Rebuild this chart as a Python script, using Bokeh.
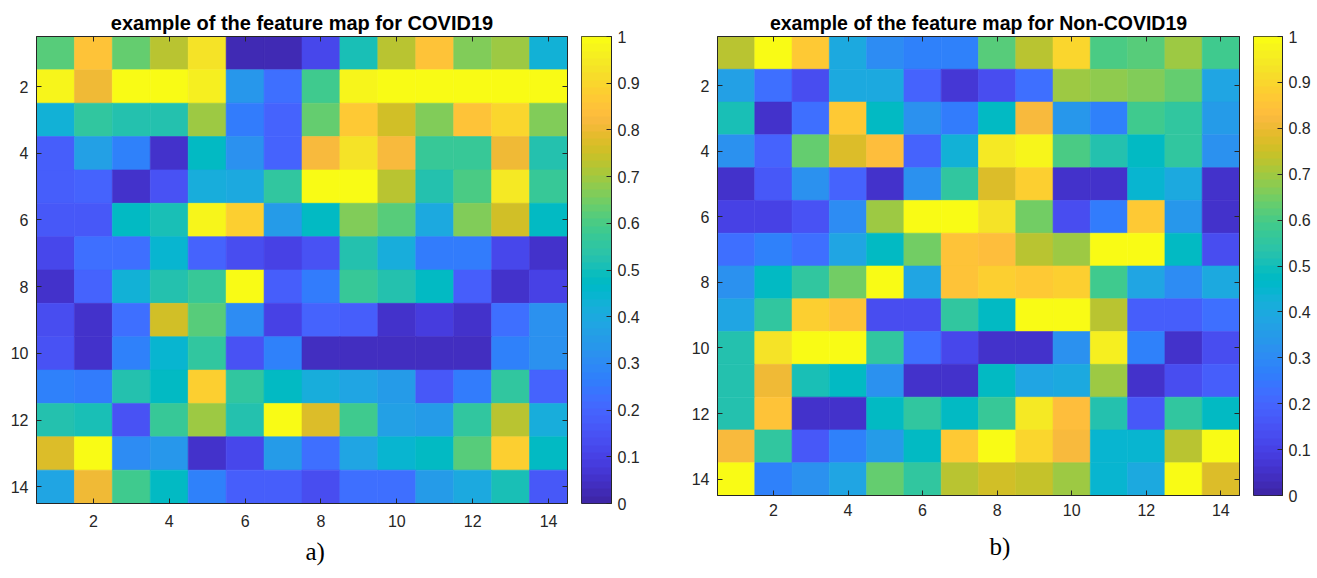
import numpy as np
from bokeh.plotting import figure
from bokeh.models import (LinearAxis, FixedTicker, LinearColorMapper, Title,
                          Range1d, ColumnDataSource)
from bokeh.transform import linear_cmap
from bokeh.layouts import row
from bokeh.embed import file_html
from bokeh.resources import INLINE

# ---------------- data ----------------
rows = list(range(1, 15))
cols = list(range(1, 15))
axis_ticks = [2, 4, 6, 8, 10, 12, 14]
cbar_ticks = [0.0, 0.1, 0.2, 0.3, 0.4, 0.5, 0.6, 0.7, 0.8, 0.9, 1.0]
title_a = "example of the feature map for COVID19"
title_b = "example of the feature map for Non-COVID19"
tag_a = "a)"
tag_b = "b)"

covid_map = [
    [0.62, 0.85, 0.63, 0.73, 0.93, 0.03, 0.03, 0.12, 0.50, 0.72, 0.85, 0.66, 0.70, 0.43],
    [0.98, 0.80, 1.00, 1.00, 0.96, 0.33, 0.22, 0.58, 0.97, 1.00, 1.00, 1.00, 1.00, 1.00],
    [0.43, 0.56, 0.53, 0.53, 0.70, 0.25, 0.20, 0.63, 0.87, 0.75, 0.66, 0.85, 0.90, 0.67],
    [0.18, 0.37, 0.27, 0.05, 0.48, 0.32, 0.20, 0.82, 0.93, 0.82, 0.57, 0.57, 0.80, 0.53],
    [0.18, 0.20, 0.05, 0.15, 0.42, 0.40, 0.56, 1.00, 1.00, 0.73, 0.53, 0.60, 0.95, 0.57],
    [0.17, 0.17, 0.48, 0.50, 0.98, 0.88, 0.35, 0.48, 0.66, 0.62, 0.40, 0.66, 0.75, 0.48],
    [0.12, 0.22, 0.22, 0.45, 0.20, 0.14, 0.10, 0.15, 0.52, 0.42, 0.25, 0.25, 0.12, 0.06],
    [0.05, 0.20, 0.43, 0.52, 0.57, 1.00, 0.18, 0.25, 0.57, 0.52, 0.48, 0.18, 0.05, 0.10],
    [0.14, 0.05, 0.22, 0.75, 0.62, 0.30, 0.10, 0.20, 0.18, 0.06, 0.08, 0.05, 0.22, 0.32],
    [0.15, 0.05, 0.28, 0.45, 0.55, 0.15, 0.28, 0.04, 0.04, 0.04, 0.04, 0.04, 0.27, 0.32],
    [0.27, 0.25, 0.53, 0.48, 0.88, 0.55, 0.48, 0.42, 0.38, 0.35, 0.17, 0.25, 0.55, 0.20],
    [0.53, 0.50, 0.15, 0.57, 0.70, 0.53, 1.00, 0.78, 0.58, 0.37, 0.35, 0.55, 0.72, 0.42],
    [0.77, 1.00, 0.30, 0.33, 0.05, 0.12, 0.35, 0.22, 0.38, 0.45, 0.48, 0.62, 0.88, 0.47],
    [0.38, 0.80, 0.58, 0.48, 0.27, 0.18, 0.18, 0.14, 0.23, 0.23, 0.35, 0.40, 0.50, 0.17],
]

noncovid_map = [
    [0.72, 1.00, 0.87, 0.40, 0.30, 0.27, 0.27, 0.62, 0.73, 0.90, 0.60, 0.62, 0.70, 0.58],
    [0.37, 0.22, 0.14, 0.40, 0.40, 0.20, 0.07, 0.14, 0.22, 0.70, 0.68, 0.67, 0.64, 0.38],
    [0.50, 0.05, 0.23, 0.87, 0.48, 0.32, 0.25, 0.47, 0.82, 0.33, 0.27, 0.58, 0.55, 0.35],
    [0.32, 0.20, 0.63, 0.77, 0.83, 0.20, 0.43, 0.94, 0.98, 0.60, 0.53, 0.48, 0.56, 0.32],
    [0.05, 0.17, 0.32, 0.20, 0.05, 0.32, 0.55, 0.77, 0.88, 0.05, 0.05, 0.45, 0.40, 0.05],
    [0.10, 0.10, 0.15, 0.30, 0.70, 1.00, 1.00, 0.93, 0.65, 0.13, 0.25, 0.87, 0.33, 0.05],
    [0.22, 0.27, 0.22, 0.38, 0.47, 0.65, 0.85, 0.84, 0.72, 0.70, 1.00, 1.00, 0.47, 0.14],
    [0.32, 0.47, 0.55, 0.65, 1.00, 0.38, 0.85, 0.88, 0.86, 0.88, 0.58, 0.38, 0.30, 0.40],
    [0.38, 0.55, 0.88, 0.85, 0.13, 0.13, 0.55, 0.47, 1.00, 1.00, 0.72, 0.18, 0.18, 0.22],
    [0.53, 0.93, 1.00, 1.00, 0.55, 0.23, 0.12, 0.05, 0.05, 0.32, 0.96, 0.27, 0.05, 0.14],
    [0.53, 0.80, 0.50, 0.48, 0.32, 0.05, 0.05, 0.47, 0.38, 0.40, 0.70, 0.05, 0.13, 0.18],
    [0.53, 0.85, 0.05, 0.05, 0.48, 0.56, 0.48, 0.57, 0.95, 0.83, 0.52, 0.17, 0.55, 0.48],
    [0.82, 0.55, 0.17, 0.27, 0.35, 0.48, 0.87, 1.00, 0.90, 0.82, 0.45, 0.45, 0.73, 1.00],
    [1.00, 0.27, 0.32, 0.38, 0.63, 0.55, 0.72, 0.76, 0.74, 0.70, 0.45, 0.40, 1.00, 0.78],
]

# ---------------- style ----------------
PARULA_RGB = [
    (0.2422, 0.1504, 0.6603), (0.2504, 0.1650, 0.7076), (0.2578, 0.1818, 0.7511), (0.2647, 0.1978, 0.7952),
    (0.2706, 0.2147, 0.8364), (0.2751, 0.2342, 0.8710), (0.2783, 0.2559, 0.8991), (0.2803, 0.2782, 0.9221),
    (0.2813, 0.3006, 0.9414), (0.2810, 0.3228, 0.9579), (0.2795, 0.3447, 0.9717), (0.2760, 0.3667, 0.9829),
    (0.2699, 0.3892, 0.9906), (0.2602, 0.4123, 0.9952), (0.2440, 0.4358, 0.9988), (0.2206, 0.4603, 0.9973),
    (0.1963, 0.4847, 0.9892), (0.1834, 0.5074, 0.9798), (0.1786, 0.5289, 0.9682), (0.1764, 0.5499, 0.9520),
    (0.1687, 0.5703, 0.9359), (0.1540, 0.5902, 0.9218), (0.1460, 0.6091, 0.9079), (0.1380, 0.6276, 0.8973),
    (0.1248, 0.6459, 0.8883), (0.1113, 0.6635, 0.8763), (0.0952, 0.6798, 0.8598), (0.0689, 0.6948, 0.8394),
    (0.0297, 0.7082, 0.8163), (0.0036, 0.7203, 0.7917), (0.0067, 0.7312, 0.7660), (0.0433, 0.7411, 0.7394),
    (0.0964, 0.7500, 0.7120), (0.1408, 0.7584, 0.6842), (0.1717, 0.7670, 0.6554), (0.1938, 0.7758, 0.6251),
    (0.2161, 0.7843, 0.5923), (0.2470, 0.7918, 0.5567), (0.2906, 0.7973, 0.5188), (0.3406, 0.8008, 0.4789),
    (0.3909, 0.8029, 0.4354), (0.4456, 0.8024, 0.3909), (0.5044, 0.7993, 0.3480), (0.5616, 0.7942, 0.3045),
    (0.6174, 0.7876, 0.2612), (0.6720, 0.7793, 0.2227), (0.7242, 0.7698, 0.1910), (0.7738, 0.7598, 0.1646),
    (0.8203, 0.7498, 0.1535), (0.8634, 0.7406, 0.1596), (0.9035, 0.7330, 0.1774), (0.9393, 0.7288, 0.2100),
    (0.9728, 0.7298, 0.2394), (0.9956, 0.7434, 0.2371), (0.9970, 0.7659, 0.2199), (0.9952, 0.7893, 0.2028),
    (0.9892, 0.8136, 0.1885), (0.9786, 0.8386, 0.1766), (0.9676, 0.8639, 0.1643), (0.9610, 0.8890, 0.1537),
    (0.9597, 0.9135, 0.1423), (0.9628, 0.9373, 0.1265), (0.9691, 0.9606, 0.1064), (0.9769, 0.9839, 0.0805),
]
PARULA = ["#%02x%02x%02x" % tuple(int(round(c * 255)) for c in rgb) for rgb in PARULA_RGB]

FONT = "Liberation Sans"
TXT = "#262626"
TICK_FS = "16px"


def style_axis(ax, labels=True):
    ax.ticker = FixedTicker(ticks=axis_ticks)
    ax.major_tick_in = 5
    ax.major_tick_out = 0
    ax.minor_tick_line_color = None
    ax.axis_line_color = TXT
    ax.major_tick_line_color = TXT
    ax.major_label_text_font = FONT
    if labels:
        ax.major_label_text_font_size = TICK_FS
        ax.major_label_text_color = TXT
    else:
        ax.major_label_text_font_size = "1px"
        ax.major_label_text_color = None
        ax.major_label_standoff = 0


def heatmap(title, mat, height, width, bl, br, bb, title_fs, title_stand, xstand,
            tag, tag_off, tag_stand):
    xs, ys, vs = [], [], []
    for i, r in enumerate(rows):
        for j, c in enumerate(cols):
            xs.append(c)
            ys.append(r)
            vs.append(mat[i][j])
    src = ColumnDataSource(dict(x=xs, y=ys, v=vs))
    p = figure(width=width, height=height, x_range=Range1d(0.5, 14.5), y_range=Range1d(14.5, 0.5),
               output_backend="svg", toolbar_location=None, title=title,
               min_border_left=bl, min_border_right=br, min_border_top=36, min_border_bottom=bb)
    cmap = linear_cmap("v", PARULA, 0, 1)
    p.rect(x="x", y="y", width=1, height=1, source=src, fill_color=cmap,
           line_color=cmap, line_width=0.6)
    p.grid.visible = False
    p.outline_line_color = TXT
    p.background_fill_color = "white"
    p.border_fill_color = "white"
    p.title.align = "center"
    p.title.text_font = FONT
    p.title.text_font_size = title_fs
    p.title.text_font_style = "bold"
    p.title.text_color = "black"
    p.title.standoff = title_stand
    style_axis(p.xaxis[0])
    style_axis(p.yaxis[0])
    p.xaxis.major_label_standoff = xstand
    p.yaxis.major_label_standoff = 8
    top = LinearAxis()
    style_axis(top, labels=False)
    p.add_layout(top, "above")
    right = LinearAxis()
    style_axis(right, labels=False)
    p.add_layout(right, "right")
    p.add_layout(Title(text=tag, align="left", offset=tag_off, text_font="Liberation Serif",
                       text_font_size="25px", text_font_style="normal", text_color="black",
                       standoff=tag_stand), "below")
    return p


def colorbar(height, width, bl, br, bb):
    cb = figure(width=width, height=height, x_range=Range1d(0, 1), y_range=Range1d(0, 1),
                output_backend="svg", toolbar_location=None, x_axis_location=None,
                y_axis_location="right",
                min_border_left=bl, min_border_right=br, min_border_top=36, min_border_bottom=bb)
    mapper = LinearColorMapper(palette=PARULA, low=0, high=1)
    cb.image(image=[np.linspace(0, 1, 256).reshape(256, 1)], x=0, y=0, dw=1, dh=1,
             color_mapper=mapper)
    cb.grid.visible = False
    cb.outline_line_color = TXT
    cb.border_fill_color = "white"
    ax = cb.yaxis[0]
    ax.ticker = FixedTicker(ticks=cbar_ticks)
    ax.major_label_overrides = {0: "0", 1: "1"}
    ax.major_tick_in = 5
    ax.major_tick_out = 0
    ax.minor_tick_line_color = None
    ax.axis_line_color = TXT
    ax.major_tick_line_color = TXT
    ax.major_label_text_font = FONT
    ax.major_label_text_font_size = TICK_FS
    ax.major_label_text_color = TXT
    ax.major_label_standoff = 6
    return cb


p1 = heatmap(title_a, covid_map, 578, 575, 36, 8, 75, "20px", 6, 11, tag_a, 269, 12)
cb1 = colorbar(578, 100, 6, 64, 75)
p2 = heatmap(title_b, noncovid_map, 578, 570, 42, 6, 83, "19.5px", 6, 8, tag_b, 272, 25)
cb2 = colorbar(578, 72, 8, 35, 83)

layout = row(row(p1, cb1), row(p2, cb2))

open("out.html", "w").write(file_html(layout, INLINE))
